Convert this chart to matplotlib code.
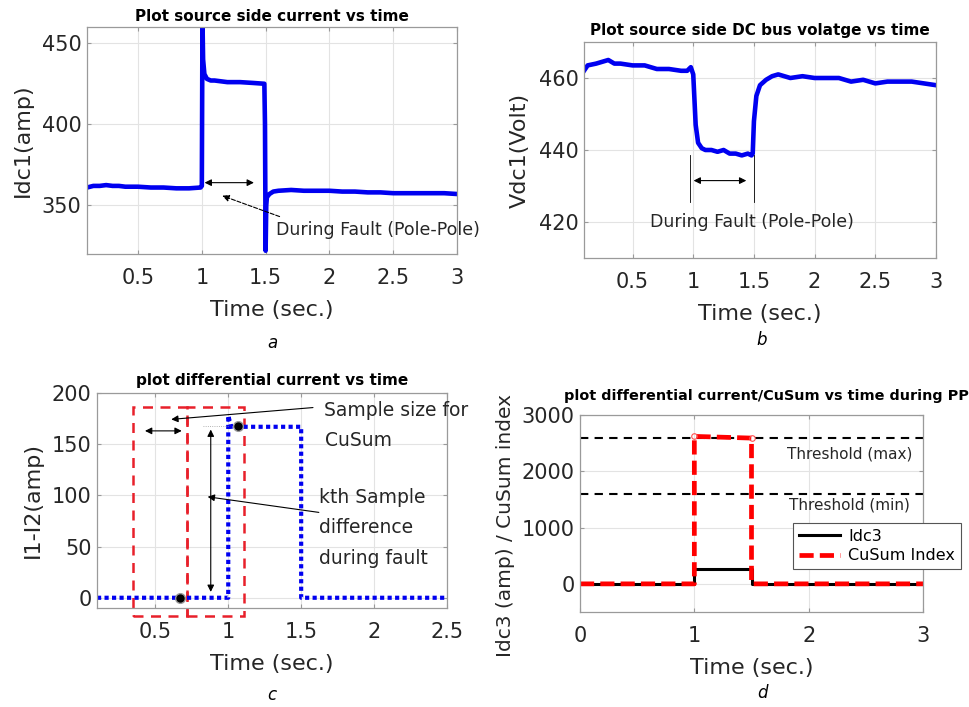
import matplotlib
matplotlib.use("Agg")
import matplotlib.pyplot as plt
from matplotlib.patches import Rectangle

plt.rcParams['font.family'] = ['DejaVu Sans']

# ---- panel a: source side current ----
t_a = [0.10, 0.15, 0.20, 0.25, 0.30, 0.35, 0.40, 0.50, 0.60, 0.70, 0.80, 0.90, 0.99,
       1.00, 1.005, 1.01, 1.02, 1.04, 1.07, 1.10, 1.20, 1.30, 1.40, 1.49, 1.495,
       1.50, 1.505, 1.51, 1.53, 1.56, 1.60, 1.70, 1.80, 1.90, 2.00, 2.10, 2.20,
       2.30, 2.40, 2.50, 2.60, 2.70, 2.80, 2.90, 3.00]
idc1 = [361, 362, 362, 362.5, 362, 362, 361.5, 361.5, 361, 361, 360.5, 360.5, 361,
        362, 465, 440, 431, 428, 427, 427, 426, 426, 425.5, 425, 400,
        322, 350, 355, 357, 358.5, 359, 359.5, 359, 359, 359, 358.5, 358.5,
        358, 358, 357.5, 357.5, 357.5, 357.5, 357.5, 357]

# ---- panel b: DC bus voltage ----
t_b = [0.10, 0.13, 0.20, 0.25, 0.30, 0.35, 0.40, 0.50, 0.60, 0.70, 0.80, 0.90, 0.95,
       0.98, 1.00, 1.02, 1.04, 1.07, 1.10, 1.15, 1.20, 1.25, 1.30, 1.35, 1.40,
       1.45, 1.48, 1.49, 1.50, 1.52, 1.55, 1.60, 1.65, 1.70, 1.80, 1.90, 2.00,
       2.10, 2.20, 2.30, 2.40, 2.50, 2.60, 2.70, 2.80, 2.90, 3.00]
vdc1 = [462, 463.5, 464, 464.5, 465, 464, 464, 463.5, 463.5, 462.5, 462.5, 462, 462,
        463, 461, 447, 442, 440.5, 440, 440, 439.5, 440, 439, 439, 438.5,
        439, 438.5, 439, 448, 455, 458, 459.5, 460.5, 461, 460, 460.5, 460,
        460, 460, 459, 459.5, 458.5, 459, 459, 459, 458.5, 458]

# ---- panel c: differential current ----
t_c = [0.10, 1.00, 1.00, 1.02, 1.50, 1.50, 2.50]
diff_c = [0, 0, 178, 167, 167, 0, 0]
dots_t = [0.67, 1.07]
dots_v = [0, 168]

# ---- panel d: Idc3 / CuSum ----
t_d = [0, 1.0, 1.0, 1.5, 1.5, 3.0]
idc3 = [0, 0, 265, 265, 0, 0]
cusum = [0, 0, 2620, 2590, 0, 0]
thr_max = 2600
thr_min = 1600

BLUE = '#0000f0'
TXT = '#262626'
W, H = 969, 707

fig = plt.figure(figsize=(W / 100, H / 100), dpi=100)


def box(l, r, t, b):
    return [l / W, 1 - b / H, (r - l) / W, (b - t) / H]


def style(ax):
    ax.grid(True, color='#e3e3e3', lw=0.8)
    ax.set_axisbelow(True)
    for s in ax.spines.values():
        s.set_color('#9a9a9a')
        s.set_linewidth(0.9)
    ax.tick_params(direction='in', length=3, color='#9a9a9a', labelsize=15,
                   labelcolor=TXT, top=True, right=True)
    ax.tick_params(axis='x', pad=10)
    ax.tick_params(axis='y', pad=4)


def labels(ax, xl, yl):
    ax.set_xlabel(xl, fontsize=16, color=TXT, labelpad=9)
    ax.set_ylabel(yl, fontsize=16, color=TXT, labelpad=6)


ax_a = fig.add_axes(box(87, 457, 27, 254))
ax_b = fig.add_axes(box(584, 936, 42, 258))
ax_c = fig.add_axes(box(97, 447, 393, 608))
ax_d = fig.add_axes(box(580, 923, 415, 612))
for ax in (ax_a, ax_b, ax_c, ax_d):
    style(ax)

# a
ax_a.plot(t_a, idc1, color=BLUE, lw=3.3)
ax_a.set_xlim(0.1, 3)
ax_a.set_ylim(320, 460)
ax_a.set_xticks([0.5, 1, 1.5, 2, 2.5, 3], ['0.5', '1', '1.5', '2', '2.5', '3'])
ax_a.set_yticks([350, 400, 450])
labels(ax_a, 'Time (sec.)', 'Idc1(amp)')
ax_a.set_title('Plot source side current vs time', fontsize=11, fontweight='bold', pad=4)
ax_a.annotate('', xy=(1.0, 364), xytext=(1.43, 364),
              arrowprops=dict(arrowstyle='<|-|>', color='black', lw=0.8))
ax_a.annotate('', xy=(1.14, 356.5), xytext=(1.63, 342.5),
              arrowprops=dict(arrowstyle='-|>', color='black', lw=0.8, ls='--'))
ax_a.text(1.58, 335, 'During Fault (Pole-Pole)', fontsize=12.5, color=TXT,
          va='center', clip_on=False)
fig.text(272 / W, 1 - 343 / H, 'a', fontsize=12, style='italic', ha='center', va='center')

# b
ax_b.plot(t_b, vdc1, color=BLUE, lw=3.3)
ax_b.set_xlim(0.1, 3)
ax_b.set_ylim(410, 470)
ax_b.set_xticks([0.5, 1, 1.5, 2, 2.5, 3], ['0.5', '1', '1.5', '2', '2.5', '3'])
ax_b.set_yticks([420, 440, 460])
labels(ax_b, 'Time (sec.)', 'Vdc1(Volt)')
ax_b.set_title('Plot source side DC bus volatge vs time', fontsize=11, fontweight='bold', pad=5)
ax_b.plot([0.97, 0.97], [425.5, 438.5], color='black', lw=0.6)
ax_b.plot([1.50, 1.50], [425.5, 438.5], color='black', lw=0.6)
ax_b.annotate('', xy=(0.98, 431.5), xytext=(1.46, 431.5),
              arrowprops=dict(arrowstyle='<|-|>', color='black', lw=0.8))
ax_b.text(1.48, 420, 'During Fault (Pole-Pole)', fontsize=12.5, color=TXT,
          ha='center', va='center')
fig.text(762 / W, 1 - 340 / H, 'b', fontsize=12, style='italic', ha='center', va='center')

# c
ax_c.plot(t_c, diff_c, color=BLUE, lw=3.0, ls=(0, (1.0, 0.8)))
ax_c.plot(dots_t, dots_v, 'o', color='black', ms=7, mec='#9a9a9a', mew=1)
for x0, x1 in [(0.35, 0.72), (0.72, 1.11)]:
    ax_c.add_patch(Rectangle((x0, -18), x1 - x0, 204, fill=False, ec='#e8202a',
                             lw=1.8, ls=(0, (4, 3)), clip_on=False))
ax_c.plot([0.83, 1.0], [168, 168], color='#9a9a9a', lw=0.6, ls=':')
ax_c.annotate('', xy=(0.41, 163), xytext=(0.70, 163),
              arrowprops=dict(arrowstyle='<|-|>', color='black', lw=0.8))
ax_c.annotate('', xy=(0.88, 167), xytext=(0.88, 3),
              arrowprops=dict(arrowstyle='<|-|>', color='black', lw=0.8))
ax_c.annotate('', xy=(0.59, 174), xytext=(1.6, 186),
              arrowprops=dict(arrowstyle='-|>', color='black', lw=0.8))
ax_c.annotate('', xy=(0.84, 99), xytext=(1.64, 83),
              arrowprops=dict(arrowstyle='-|>', color='black', lw=0.8))
ax_c.text(1.66, 192, 'Sample size for\nCuSum', fontsize=13.5, color=TXT,
          va='top', ha='left', linespacing=1.7, clip_on=False)
ax_c.text(1.62, 107, 'kth Sample\ndifference\nduring fault', fontsize=13.5, color=TXT,
          va='top', ha='left', linespacing=1.75)
ax_c.set_xlim(0.1, 2.5)
ax_c.set_ylim(-10, 200)
ax_c.set_xticks([0.5, 1, 1.5, 2, 2.5], ['0.5', '1', '1.5', '2', '2.5'])
ax_c.set_yticks([0, 50, 100, 150, 200])
labels(ax_c, 'Time (sec.)', 'I1-I2(amp)')
ax_c.set_title('plot differential current vs time', fontsize=11, fontweight='bold', pad=6)
fig.text(272 / W, 1 - 695 / H, 'c', fontsize=12, style='italic', ha='center', va='center')

# d
ax_d.axhline(thr_max, color='black', lw=1.5, ls=(0, (4, 3)))
ax_d.axhline(thr_min, color='black', lw=1.5, ls=(0, (4, 3)))
l1, = ax_d.plot(t_d, idc3, color='black', lw=2.2, label='Idc3')
l2, = ax_d.plot(t_d, cusum, color='#ff0000', lw=3.4, ls=(0, (3, 1.3)), label='CuSum Index')
ax_d.plot([1.0, 1.5], [2620, 2590], 'o', color='#ff5050', ms=4, mfc='none', mew=0.8)
ax_d.text(1.81, 2300, 'Threshold (max)', fontsize=11, color=TXT, va='center')
ax_d.text(1.83, 1400, 'Threshold (min)', fontsize=11, color=TXT, va='center')
ax_d.set_xlim(0, 3)
ax_d.set_ylim(-500, 3000)
ax_d.set_xticks([0, 1, 2, 3])
ax_d.set_yticks([0, 1000, 2000, 3000])
labels(ax_d, 'Time (sec.)', 'Idc3 (amp) / CuSum index')
ax_d.yaxis.label.set_fontsize(14.5)
ax_d.yaxis.set_label_coords(-0.19, 0.44)
ax_d.text((766 - 580) / 343, 1.06, 'plot differential current/CuSum vs time during PP',
          transform=ax_d.transAxes, fontsize=10.4, fontweight='bold',
          ha='center', va='bottom', clip_on=False)
leg = ax_d.legend(handles=[l1, l2], loc='upper left', bbox_to_anchor=(0.621, 0.452),
                  borderaxespad=0, fontsize=11.5, frameon=True, fancybox=False,
                  edgecolor='#555555', handlelength=2.6, handletextpad=0.5,
                  borderpad=0.35, labelspacing=0.3, framealpha=1)
leg.get_frame().set_linewidth(0.8)
fig.text(762 / W, 1 - 693 / H, 'd', fontsize=12, style='italic', ha='center', va='center')

fig.savefig('out.png', dpi=100)
